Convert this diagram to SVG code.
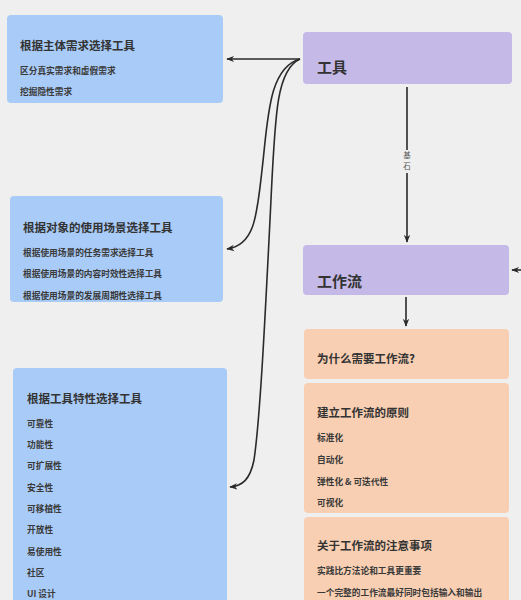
<svg xmlns="http://www.w3.org/2000/svg" width="521" height="600" viewBox="0 0 521 600">
<defs>
<style>
.bg{fill:#efefef}
.blue{fill:#a9cbf7}
.purple{fill:#c4b9e7}
.orange{fill:#f8cfb2}
text{font-family:"Noto Sans CJK SC","Noto Sans",sans-serif;fill:#333}
.t{font-size:11.5px;font-weight:700}
.big{font-size:15px;font-weight:700}
.i{font-size:8.7px;font-weight:600;fill:#3a3a3a}
.lbl{font-size:7.5px;fill:#555}
.c{fill:none;stroke:#2a2a2a;stroke-width:1.6}
</style>
<marker id="ah" viewBox="0 0 10 10" refX="9" refY="5" markerWidth="8" markerHeight="8" orient="auto-start-reverse" markerUnits="userSpaceOnUse">
<path d="M0,1 L10,5 L0,9 L3,5 Z" fill="#2a2a2a"/>
</marker>
</defs>
<rect class="bg" x="0" y="0" width="521" height="600"/>

<g id="node-need">
<rect class="blue" x="7" y="15" width="216" height="88" rx="4"/>
<text class="t" x="20" y="50">根据主体需求选择工具</text>
<text class="i" x="20" y="74">区分真实需求和虚假需求</text>
<text class="i" x="20" y="95">挖掘隐性需求</text>
</g>

<g id="node-scene">
<rect class="blue" x="10" y="196" width="213" height="106" rx="4"/>
<text class="t" x="23" y="232">根据对象的使用场景选择工具</text>
<text class="i" x="23" y="256">根据使用场景的任务需求选择工具</text>
<text class="i" x="23" y="277">根据使用场景的内容时效性选择工具</text>
<text class="i" x="23" y="299">根据使用场景的发展周期性选择工具</text>
</g>

<g id="node-feature">
<rect class="blue" x="13" y="368" width="214" height="240" rx="4"/>
<text class="t" x="27" y="403">根据工具特性选择工具</text>
<text class="i" x="27" y="427">可靠性</text>
<text class="i" x="27" y="448">功能性</text>
<text class="i" x="27" y="469">可扩展性</text>
<text class="i" x="27" y="491">安全性</text>
<text class="i" x="27" y="512">可移植性</text>
<text class="i" x="27" y="533">开放性</text>
<text class="i" x="27" y="555">易使用性</text>
<text class="i" x="27" y="576">社区</text>
<text class="i" x="27" y="597">UI 设计</text>
</g>

<g id="node-tool">
<rect class="purple" x="303" y="32" width="209" height="52" rx="4"/>
<text class="big" x="317" y="73">工具</text>
</g>

<g id="node-workflow">
<rect class="purple" x="303" y="245" width="206" height="50" rx="4"/>
<text class="big" x="317" y="287">工作流</text>
</g>

<g id="node-why">
<rect class="orange" x="304" y="329" width="205" height="50" rx="4"/>
<text class="t" x="317" y="363">为什么需要工作流?</text>
</g>

<g id="node-principle">
<rect class="orange" x="304" y="383" width="205" height="130" rx="4"/>
<text class="t" x="317" y="417">建立工作流的原则</text>
<text class="i" x="317" y="441">标准化</text>
<text class="i" x="317" y="463">自动化</text>
<text class="i" x="317" y="485">弹性化 &amp; 可迭代性</text>
<text class="i" x="317" y="506">可视化</text>
</g>

<g id="node-notes">
<rect class="orange" x="304" y="517" width="205" height="95" rx="4"/>
<text class="t" x="317" y="550">关于工作流的注意事项</text>
<text class="i" x="317" y="574">实践比方法论和工具更重要</text>
<text class="i" x="317" y="596">一个完整的工作流最好同时包括输入和输出</text>
</g>

<g id="connectors">
<path class="c" d="M300,59 L227,59" marker-end="url(#ah)"/>
<path class="c" d="M300,59 C268,68 268,120 262,170 C257,215 255,245 227,249" marker-end="url(#ah)"/>
<path class="c" d="M300,59 C275,70 275,120 270,220 C265,320 260,420 254,460 C250,480 242,486 230,487" marker-end="url(#ah)"/>
<path class="c" d="M407,87 L407,150"/>
<path class="c" d="M407,173 L407,242" marker-end="url(#ah)"/>
<text class="lbl" x="407" y="158" text-anchor="middle">基</text>
<text class="lbl" x="407" y="169" text-anchor="middle">石</text>
<path class="c" d="M406,297 L406,326" marker-end="url(#ah)"/>
<path class="c" d="M525,270 L512,270" marker-end="url(#ah)"/>
</g>
</svg>
